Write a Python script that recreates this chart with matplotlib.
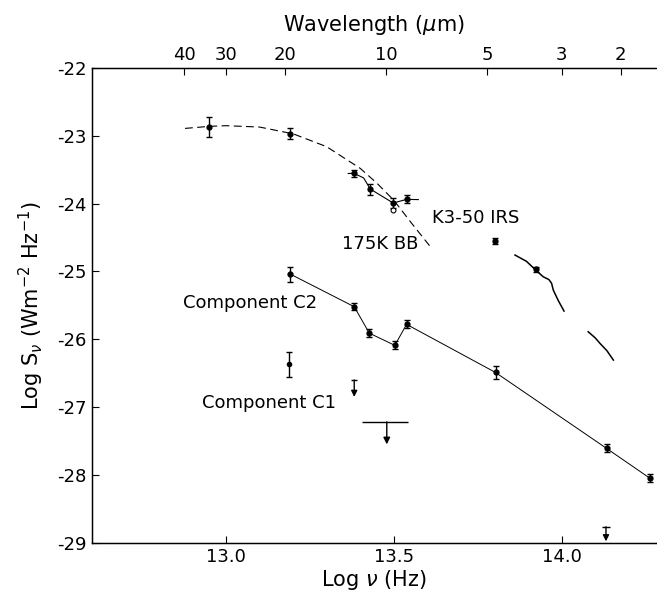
import matplotlib
matplotlib.use("Agg")
import matplotlib.pyplot as plt
import numpy as np

plt.rcParams['font.family'] = ['DejaVu Sans']
plt.rcParams['mathtext.fontset'] = 'dejavusans'

# ---------------- data ----------------
# K3-50 IRS total flux points (log nu, log S, error)
irs_x = [12.95, 13.19, 13.381, 13.430, 13.498, 13.538, 13.801, 13.923]
irs_y = [-22.87, -22.97, -23.553, -23.785, -23.99, -23.937, -24.552, -24.969]
irs_e = [0.15, 0.08, 0.05, 0.08, 0.07, 0.06, 0.04, 0.04]

# open circle below the 10 um point
open_x = [13.498]
open_y = [-24.09]

# 8-13 um spectrum segments
spec1_x = [13.364, 13.381, 13.41, 13.430, 13.498, 13.538, 13.573]
spec1_y = [-23.555, -23.553, -23.62, -23.785, -23.99, -23.937, -23.94]

# 3-5 um spectrum segments
spec2_x = [13.861, 13.895, 13.9226, 13.945, 13.962, 13.970, 13.975, 13.990, 14.007]
spec2_y = [-24.758, -24.85, -24.979, -25.078, -25.12, -25.175, -25.274, -25.43, -25.584]
spec3_x = [14.079, 14.100, 14.114, 14.135, 14.154]
spec3_y = [-25.889, -25.98, -26.06, -26.17, -26.307]

# 175 K blackbody curve
bb_x = [12.878, 12.95, 13.0, 13.1, 13.2, 13.3, 13.4, 13.45, 13.5, 13.55, 13.608]
bb_y = [-22.89, -22.86, -22.85, -22.87, -22.97, -23.16, -23.48, -23.70, -23.95, -24.27, -24.63]

# Component C2
c2_x = [13.192, 13.382, 13.427, 13.503, 13.538, 13.803, 14.134, 14.263]
c2_y = [-25.04, -25.52, -25.91, -26.09, -25.78, -26.49, -27.61, -28.05]
c2_e = [0.11, 0.05, 0.06, 0.06, 0.06, 0.09, 0.06, 0.06]

# Component C1
c1_x = [13.188]
c1_y = [-26.37]
c1_e = [0.18]
# upper limits: x, cap level, arrow tip
c1_lim_x = [13.382, 14.132]
c1_lim_cap = [-26.60, -28.765]
c1_lim_tip = [-26.85, -28.98]
# broad upper limit bar
c1_bar_x0, c1_bar_x1, c1_bar_xa = 13.404, 13.543, 13.479
c1_bar_y, c1_bar_tip = -27.217, -27.55

# axes
x_ticks = [13.0, 13.5, 14.0]
x_ticklabels = ['13.0', '13.5', '14.0']
y_ticks = [-22, -23, -24, -25, -26, -27, -28, -29]
y_ticklabels = ['-22', '-23', '-24', '-25', '-26', '-27', '-28', '-29']
wl_ticks = [40, 30, 20, 10, 5, 3, 2]
wl_labels = ['40', '30', '20', '10', '5', '3', '2']

# ---------------- figure ----------------
fig = plt.figure(figsize=(6.57, 5.97), dpi=100)
ax = fig.add_axes([0.1396, 0.0910, 0.8604, 0.795])
ax.set_xlim(12.6, 14.284)
ax.set_ylim(-29, -22)

lw = 0.8
k = 'black'

# blackbody dashed curve
ax.plot(bb_x, bb_y, color=k, lw=lw, dashes=(7, 4))
# spectra
ax.plot(spec1_x, spec1_y, color=k, lw=lw)
ax.plot(spec2_x, spec2_y, color=k, lw=1.1)
ax.plot(spec3_x, spec3_y, color=k, lw=1.1)

# IRS points
ax.errorbar(irs_x, irs_y, yerr=irs_e, fmt='o', color=k, ms=3.5,
            capsize=2.5, elinewidth=1.0, capthick=1.0)
ax.plot(open_x, open_y, 'o', mfc='white', mec=k, ms=3.5, mew=0.8)

# C2
ax.plot(c2_x, c2_y, color=k, lw=0.7)
ax.errorbar(c2_x, c2_y, yerr=c2_e, fmt='o', color=k, ms=3.5,
            capsize=2.5, elinewidth=1.0, capthick=1.0)

# C1
ax.errorbar(c1_x, c1_y, yerr=c1_e, fmt='o', color=k, ms=3.0,
            capsize=2.5, elinewidth=1.0, capthick=1.0)
cap_half = [0.009, 0.013]
for x, cap, tip, hw in zip(c1_lim_x, c1_lim_cap, c1_lim_tip, cap_half):
    ax.hlines(cap, x - hw, x + hw, color=k, lw=1.0)
    ax.annotate('', xy=(x, tip), xytext=(x, cap),
                arrowprops=dict(arrowstyle='-|>', color=k, lw=1.0,
                                mutation_scale=9, shrinkA=0, shrinkB=0))
ax.hlines(c1_bar_y, c1_bar_x0, c1_bar_x1, color=k, lw=1.0)
ax.annotate('', xy=(c1_bar_xa, c1_bar_tip), xytext=(c1_bar_xa, c1_bar_y),
            arrowprops=dict(arrowstyle='-|>', color=k, lw=1.0,
                            mutation_scale=10, shrinkA=0, shrinkB=0))

# labels in plot
fs = 13
ax.text(13.346, -24.60, '175K BB', fontsize=fs, va='center', ha='left')
ax.text(13.613, -24.217, 'K3-50 IRS', fontsize=fs, va='center', ha='left')
ax.text(12.872, -25.47, 'Component C2', fontsize=fs, va='center', ha='left')
ax.text(12.928, -26.945, 'Component C1', fontsize=fs, va='center', ha='left')

# axes styling
ax.spines['right'].set_visible(False)
for s in ['left', 'top', 'bottom']:
    ax.spines[s].set_linewidth(1.0)
ax.set_xticks(x_ticks)
ax.set_xticklabels(x_ticklabels)
ax.set_yticks(y_ticks)
ax.set_yticklabels(y_ticklabels)
ax.tick_params(direction='in', length=5, width=0.8, labelsize=13,
               top=False, right=False)
ax.set_xlabel(r'Log $\nu$ (Hz)', fontsize=15, labelpad=2)
ax.set_ylabel(r'Log S$_\nu$ (Wm$^{-2}$ Hz$^{-1}$)', fontsize=15, labelpad=8)

# top wavelength axis
ax2 = ax.twiny()
ax2.set_xlim(ax.get_xlim())
ax2.spines['right'].set_visible(False)
wl_pos = [np.log10(2.998e14 / w) for w in wl_ticks]
ax2.set_xticks(wl_pos)
ax2.set_xticklabels(wl_labels)
ax2.tick_params(direction='in', length=5, width=0.8, labelsize=13, pad=3)
ax2.set_xlabel(r'Wavelength ($\mu$m)', fontsize=15, labelpad=11)

fig.savefig('out.png', dpi=100)
